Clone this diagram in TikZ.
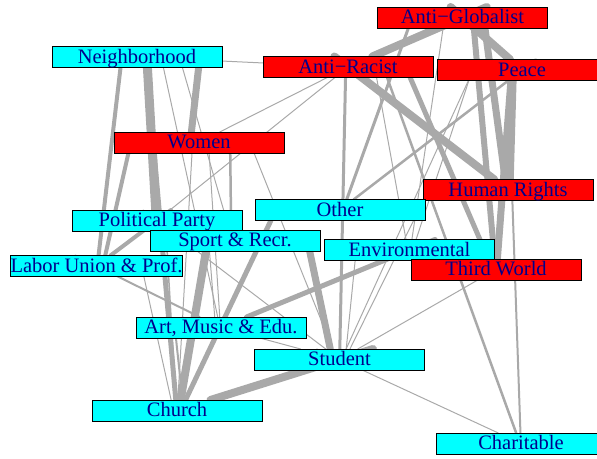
\documentclass[tikz,border=0pt]{standalone}
\usepackage{fontspec}
\setmainfont{Liberation Serif}
\usepackage{tikz}
\usetikzlibrary{backgrounds}

\definecolor{labelblue}{RGB}{0,0,139}
\definecolor{tiegray}{RGB}{169,169,169}
\definecolor{boxcyan}{RGB}{0,255,255}
\definecolor{boxred}{RGB}{255,0,0}

% half width and half height of a box
\def\hw{85}
\def\hh{10.5}

% end point of a tie on box #1 (towards box #2), saved as coordinate #3
\newcommand{\boxend}[3]{%
  \pgfpointanchor{#1}{center}\pgfgetlastxy{\eax}{\eay}%
  \pgfpointanchor{#2}{center}\pgfgetlastxy{\ebx}{\eby}%
  \pgfmathsetmacro{\eslope}{((\eby)-(\eay))/((\ebx)-(\eax))}%
  \pgfmathsetmacro{\eabs}{abs(\eslope)}%
  \ifdim\eabs pt<0.1235pt
    \ifdim\ebx<\eax
      \pgfmathsetmacro{\eex}{(\eax)-\hw}\pgfmathsetmacro{\eey}{(\eay)-\hw*(\eslope)}%
    \else
      \pgfmathsetmacro{\eex}{(\eax)+\hw}\pgfmathsetmacro{\eey}{(\eay)+\hw*(\eslope)}%
    \fi
  \else
    \ifdim\eabs pt<1pt
      \pgfmathsetmacro{\eex}{(\eax)+\hh/(\eslope)}\pgfmathsetmacro{\eey}{(\eay)+\hh}%
    \else
      \pgfmathsetmacro{\eda}{veclen(((\eax)-\hw/(\eslope)-(\ebx))/100,((\eay)-\hh-(\eby))/100)}%
      \pgfmathsetmacro{\edb}{veclen(((\eax)+\hh/(\eslope)-(\ebx))/100,((\eay)+\hh-(\eby))/100)}%
      \ifdim\eda pt<\edb pt
        \pgfmathsetmacro{\eex}{(\eax)-\hw/(\eslope)}\pgfmathsetmacro{\eey}{(\eay)-\hh}%
      \else
        \pgfmathsetmacro{\eex}{(\eax)+\hh/(\eslope)}\pgfmathsetmacro{\eey}{(\eay)+\hh}%
      \fi
    \fi
  \fi
  \coordinate (#3) at (\eex pt,\eey pt);%
}

% tie of width #3 between boxes #1 and #2
\newcommand{\tie}[3]{%
  \boxend{#1}{#2}{#1-#2}\boxend{#2}{#1}{#2-#1}%
  \draw[tie, line width=#3pt] (#1-#2) -- (#2-#1);
}

\begin{document}
\begin{tikzpicture}[
    x=1pt, y=-1pt,
    org/.style={draw, rectangle, minimum width=170pt, minimum height=21pt, inner sep=0pt, line width=0.8pt, text=labelblue, text height=15pt, text depth=3pt, font=\fontsize{20.5}{21}\selectfont},
    cause/.style={org, fill=boxred},
    civic/.style={org, fill=boxcyan},
    tie/.style={draw=tiegray, line cap=round}
]
\useasboundingbox (0,0) rectangle (597,458);

% Boxes
\node[cause] (ag) at (462.5,17.5) {Anti−Globalist};
\node[civic] (nb) at (137,57) {Neighborhood};
\node[cause] (ar) at (348,67) {Anti−Racist};
\node[cause] (pe) at (522,70) {Peace};
\node[cause] (wo) at (199,142.5) {Women};
\node[cause] (hr) at (508,190) {Human Rights};
\node[civic] (ot) at (340,210) {Other};
\node[civic] (pp) at (157,220.5) {Political Party};
\node[civic] (sr) at (235,240.5) {Sport \& Recr.};
\node[civic] (en) at (409.5,250) {Environmental};
\node[civic] (lu) at (96.5,266) {Labor Union \& Prof.};
\node[cause] (tw) at (496,269.5) {Third World};
\node[civic] (am) at (221,327.5) {Art, Music \& Edu.};
\node[civic] (st) at (339.5,359.5) {Student};
\node[civic] (ch) at (177,410.5) {Church};
\node[civic] (ca) at (521,443.5) {Charitable};

% Ties
\begin{scope}[on background layer]
% heavy
\tie{nb}{pp}{9}
\tie{nb}{ch}{5}
\tie{nb}{wo}{7}
\tie{nb}{lu}{4}
\tie{wo}{lu}{4}
\tie{lu}{pp}{4}
\tie{ag}{ar}{8}
\tie{ag}{pe}{8}
\tie{ar}{hr}{8}
\tie{ag}{hr}{7}
\tie{ag}{tw}{6}
\tie{pe}{hr}{9}
\tie{pe}{tw}{7}
\tie{ar}{tw}{5}
\tie{sr}{ch}{8}
\tie{ot}{ch}{5}
\tie{ch}{st}{8}
\tie{sr}{st}{7}
\tie{am}{en}{5}
% medium
\tie{ar}{st}{3}
\tie{ar}{ca}{2.5}
\tie{pe}{ot}{2.5}
\tie{ag}{ot}{3}
\tie{hr}{ca}{2}
\tie{wo}{sr}{2.5}
\tie{lu}{am}{2}
\tie{am}{ch}{2}
% thin
\tie{nb}{am}{1}
\tie{nb}{sr}{1}
\tie{nb}{ar}{1}
\tie{wo}{ar}{1}
\tie{wo}{st}{1}
\tie{wo}{am}{1}
\tie{wo}{ch}{1}
\tie{ar}{pp}{1}
\tie{ar}{en}{1}
\tie{ag}{en}{1}
\tie{lu}{ch}{1}
\tie{pe}{en}{1}
\tie{pe}{st}{1}
\tie{st}{ca}{1}
\tie{st}{tw}{1}
\tie{st}{en}{1}
\tie{st}{hr}{1}
\tie{am}{st}{1}
\tie{pp}{st}{1}
\tie{pp}{ch}{1.5}
\tie{pp}{am}{1}
\end{scope}
\end{tikzpicture}
\end{document}
